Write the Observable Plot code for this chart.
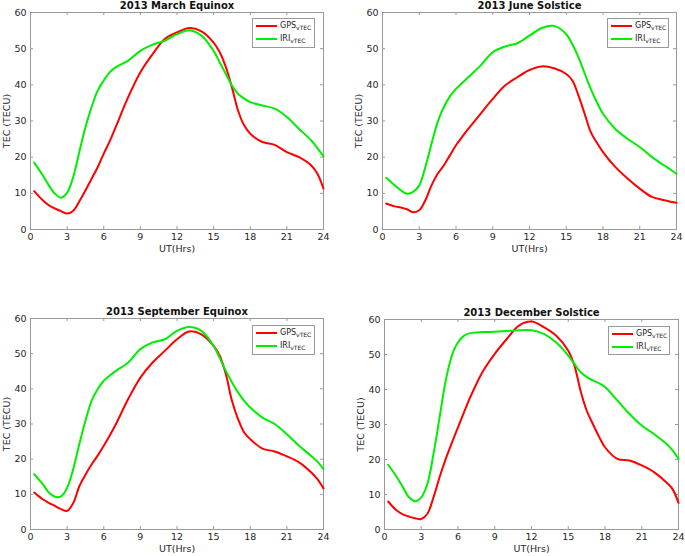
<!DOCTYPE html>
<html>
<head>
<meta charset="utf-8">
<script src="https://cdn.jsdelivr.net/npm/d3@7"></script>
<script src="https://cdn.jsdelivr.net/npm/@observablehq/plot@0.6"></script>
<style>
  html, body { margin: 0; padding: 0; background: #fff; }
  #chart { position: relative; width: 685px; height: 556px; background: #fff; font-family: "DejaVu Sans", sans-serif; }
  #chart > svg { position: absolute; }
  .legend { position: absolute; border: 1px solid #999; background: #fff; box-sizing: border-box; font-family: "DejaVu Sans", sans-serif; font-size: 8px; color: #222; }
  .legend .row { position: absolute; left: 0; height: 12px; display: flex; align-items: center; }
  .legend .sw { display: inline-block; width: 21px; height: 2px; margin-left: 3px; margin-right: 3px; }
  .legend sub { font-size: 6px; vertical-align: -2px; }
</style>
</head>
<body>
<div id="chart"></div>
<script>
// ---- data ----
const hours = [0.3,1,1.5,2,2.5,3,3.5,4,4.5,5,5.5,6,6.5,7,8,9,10,11,12,13,14,15,15.5,16,16.5,17,17.5,18,19,20,21,22,23,23.5,24];

const marchGPS = [10.6,8.1,6.7,5.8,5.1,4.4,5.2,7.8,10.8,14,17.2,21,24.5,28.5,36.6,43.5,48.5,52.7,54.5,55.7,54.8,51.7,49,44.9,39.3,32.9,28.8,26.5,24.2,23.4,21.4,20,17.7,15.4,11.3];
const marchIRI = [18.5,15,12.2,9.9,8.8,10.2,14.5,21.5,28.3,33.8,38.4,41.2,43.5,44.9,46.7,49.4,51.1,52.2,54,55.1,53.6,49.4,46.2,43,39.8,37.5,36.2,35.2,34.3,33.4,31.1,27.8,24.6,22.5,20.2];

const juneGPS = [7.2,6.4,6.1,5.6,4.8,5.3,8.1,12.2,15.4,17.7,20.5,23.3,25.6,27.8,32,36.1,39.8,42.1,44.1,45.1,44.6,43,41.2,37,32,26.9,24,21.4,17.3,14.1,11.3,9,8.1,7.7,7.4];
const juneIRI = [14.3,12.2,10.8,9.9,10.4,12.2,17.3,23.7,29.7,33.8,36.8,38.9,40.5,42.1,45.3,49,50.6,51.5,53.6,55.7,56.3,54,51.2,47.6,43.2,38.9,35.2,32,27.8,25.1,22.8,20,17.7,16.6,15.4];

const septGPS = [10.5,8.6,7.6,6.7,5.8,5.3,7.5,12.3,15.6,18.5,21,23.8,26.8,30,37.1,43.2,47.5,50.8,54.1,56.3,55.5,52.2,49.4,44.2,36.6,31.4,27.6,25.7,23,22.2,20.8,19.1,16.2,14.3,11.7];
const septIRI = [15.7,12.9,10.5,9.3,9.4,11.9,17.2,24.3,30.9,36.6,39.9,42.3,43.8,45.1,47.5,51.3,53.2,54.1,56.5,57.6,56.5,52.2,48.8,45.1,41.9,39,36.6,34.7,31.8,30,27.1,23.8,20.9,19.3,17.2];

const decGPS = [8,5.4,4.3,3.7,3.2,3,4.5,9.2,15,20.2,24.8,29.2,33.6,37.8,45,50.2,54.5,58.3,59.4,57.8,55.4,51.1,46.9,39.7,34,30.2,26.6,23.5,20.2,19.7,18.3,16.4,13.5,11.6,7.6];
const decIRI = [18.5,15,12.1,9.2,8.1,9.2,13,21.6,32.1,42.6,49.7,53.5,55.4,56.1,56.4,56.5,56.7,56.9,56.9,55.9,53.5,49.7,47.3,45,43.6,42.6,41.8,40.7,36.9,33,29.7,27.3,24.5,22.7,20.2];

const titles = ["2013 March Equinox", "2013 June Solstice", "2013 September Equinox", "2013 December Solstice"];
const seriesNames = ["GPS", "IRI"];
const seriesSub = "vTEC";
const xTicks = [0,3,6,9,12,15,18,21,24];
const yTicks = [0,10,20,30,40,50,60];
const xLabel = "UT(Hrs)";
const yLabel = "TEC (TECU)";

// ---- styling / layout ----
const colors = {GPS: "#ff0000", IRI: "#00ee00"};
const axisGray = "#999";
const textColor = "#262626";

const panels = [
  {title: titles[0], gps: marchGPS, iri: marchIRI, left: 0,   top: 0,   w: 340, h: 270, ml: 30, mr: 17, mt: 12, mb: 41, lg: {l: 252, t: 18, w: 63, h: 30}},
  {title: titles[1], gps: juneGPS,  iri: juneIRI,  left: 340, top: 0,   w: 345, h: 270, ml: 42, mr: 9,  mt: 12, mb: 41, lg: {l: 607, t: 18, w: 62, h: 30}},
  {title: titles[2], gps: septGPS,  iri: septIRI,  left: 0,   top: 290, w: 340, h: 266, ml: 30, mr: 17, mt: 28, mb: 27, lg: {l: 252, t: 325, w: 63, h: 30}},
  {title: titles[3], gps: decGPS,   iri: decIRI,   left: 340, top: 290, w: 345, h: 266, ml: 44, mr: 7,  mt: 29, mb: 27, lg: {l: 608, t: 326, w: 62, h: 29}}
];

const chart = document.getElementById("chart");

for (const p of panels) {
  const rows = [];
  hours.forEach((t, i) => {
    rows.push({t, v: p.gps[i], s: "GPS"});
    rows.push({t, v: p.iri[i], s: "IRI"});
  });
  const iw = p.w - p.ml - p.mr;
  const ih = p.h - p.mt - p.mb;
  const svg = Plot.plot({
    width: p.w, height: p.h,
    marginLeft: p.ml, marginRight: p.mr, marginTop: p.mt, marginBottom: p.mb,
    style: {fontFamily: "DejaVu Sans, sans-serif", color: textColor, background: "transparent", overflow: "visible"},
    x: {domain: [0, 24]},
    y: {domain: [0, 60]},
    marks: [
      Plot.frame({stroke: axisGray}),
      Plot.tickX(xTicks, {x: d => d, stroke: axisGray, insetTop: ih - 3}),
      Plot.tickX(xTicks, {x: d => d, stroke: axisGray, insetBottom: ih - 3}),
      Plot.tickY(yTicks, {y: d => d, stroke: axisGray, insetRight: iw - 3}),
      Plot.tickY(yTicks, {y: d => d, stroke: axisGray, insetLeft: iw - 3}),
      Plot.axisX(xTicks, {tickSize: 0, tickPadding: 4, fontSize: 9.5, label: xLabel, labelAnchor: "center", labelArrow: "none", labelOffset: 22}),
      Plot.axisY(yTicks, {tickSize: 0, tickPadding: 4, fontSize: 9.5, label: yLabel, labelAnchor: "center", labelArrow: "none", labelOffset: 27}),
      Plot.line(rows, {x: "t", y: "v", z: "s", stroke: d => colors[d.s], strokeWidth: 2, curve: "catmull-rom"}),
      Plot.text([p.title], {frameAnchor: "top", dy: -11, fontWeight: "bold", fontSize: 10, fill: "#111"})
    ]
  });
  svg.style.left = p.left + "px";
  svg.style.top = p.top + "px";
  chart.appendChild(svg);

  // legend (HTML overlay)
  const lg = document.createElement("div");
  lg.className = "legend";
  lg.style.left = p.lg.l + "px";
  lg.style.top = p.lg.t + "px";
  lg.style.width = p.lg.w + "px";
  lg.style.height = p.lg.h + "px";
  seriesNames.forEach((name, i) => {
    const row = document.createElement("div");
    row.className = "row";
    row.style.top = (1 + i * 13) + "px";
    const sw = document.createElement("span");
    sw.className = "sw";
    sw.style.background = colors[name];
    const lab = document.createElement("span");
    lab.innerHTML = name + "<sub>" + seriesSub + "</sub>";
    row.appendChild(sw);
    row.appendChild(lab);
    lg.appendChild(row);
  });
  chart.appendChild(lg);
}
</script>
</body>
</html>
